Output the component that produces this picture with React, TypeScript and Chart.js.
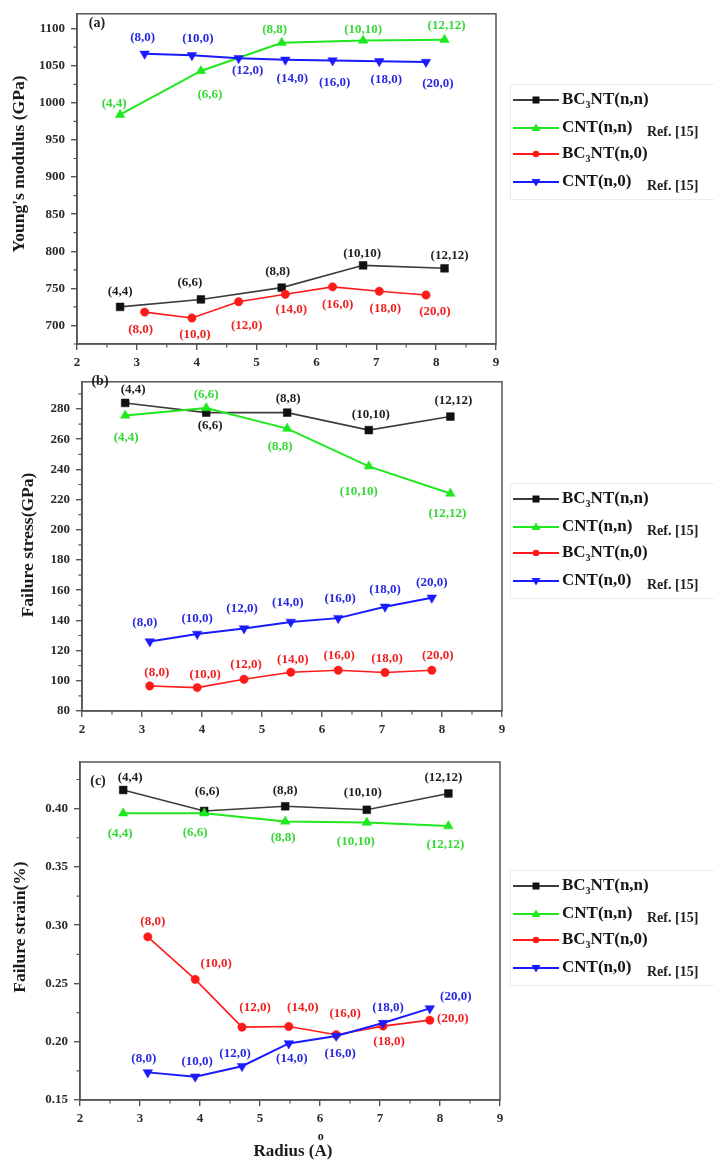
import React, { useEffect, useRef } from "react";
import { Chart, registerables } from "chart.js";

Chart.register(...registerables);

const FONT = '"Liberation Serif", "Times New Roman", serif';

// Radii (Å)
const armchairRadius = [2.72, 4.07, 5.42, 6.78, 8.14];
const zigzagRadius = [3.13, 3.92, 4.7, 5.48, 6.27, 7.05, 7.83];
const armchairLabels = ["(4,4)", "(6,6)", "(8,8)", "(10,10)", "(12,12)"];
const zigzagLabels = ["(8,0)", "(10,0)", "(12,0)", "(14,0)", "(16,0)", "(18,0)", "(20,0)"];

// (a) Young's modulus (GPa)
const youngBC3NTArm = [725, 735, 751, 781, 777];
const youngCNTArm = [984, 1043, 1081, 1084, 1085];
const youngBC3NTZig = [718, 710, 732, 742, 752, 746, 741];
const youngCNTZig = [1066, 1064, 1060, 1058, 1057, 1056, 1055];

// (b) Failure stress (GPa)
const stressBC3NTArm = [284, 277.6, 277.6, 266, 275];
const stressCNTArm = [275.7, 280.6, 267, 242, 224];
const stressBC3NTZig = [96.6, 95.5, 101, 105.7, 107, 105.5, 107];
const stressCNTZig = [126, 131, 134.6, 139, 141.5, 149, 155];

// (c) Failure strain (%)
const strainBC3NTArm = [0.416, 0.398, 0.402, 0.399, 0.413];
const strainCNTArm = [0.396, 0.396, 0.389, 0.388, 0.385];
const strainBC3NTZig = [0.29, 0.2535, 0.2125, 0.213, 0.206, 0.2134, 0.2185];
const strainCNTZig = [0.1737, 0.17, 0.179, 0.1985, 0.205, 0.216, 0.2286];

// tick labels
const xTicks = [2, 3, 4, 5, 6, 7, 8, 9];
const youngTicks = [700, 750, 800, 850, 900, 950, 1000, 1050, 1100];
const stressTicks = [80, 100, 120, 140, 160, 180, 200, 220, 240, 260, 280];
const strainTicks = [0.15, 0.2, 0.25, 0.3, 0.35, 0.4];

const legendNames = [["BC", "3", "NT(n,n)"], ["CNT(n,n)"], ["BC", "3", "NT(n,0)"], ["CNT(n,0)"]];
const legendRef = ["", "Ref. [15]", "", "Ref. [15]"];

type Off = [number, number];

// label placement (pixel offsets from each point), kept apart from the data
const offA: Off[][] = [
  [[0, -15], [-11, -17], [-4, -16], [-1, -12], [5, -13]],
  [[-6, -11], [9, 24], [-7, -13], [0, -11], [2, -14]],
  [[-4, 18], [3, 17], [8, 24], [6, 15], [5, 18], [6, 17], [9, 17]],
  [[-2, -16], [6, -17], [9, 12], [7, 19], [2, 22], [7, 18], [12, 22]],
];
const offB: Off[][] = [
  [[8, -13], [4, 13], [1, -14], [2, -15], [3, -16]],
  [[1, 22], [0, -13], [-7, 18], [-10, 25], [-3, 20]],
  [[7, -13], [8, -13], [2, -15], [2, -13], [1, -15], [2, -14], [6, -15]],
  [[-5, -19], [0, -15], [-2, -20], [-3, -19], [2, -19], [0, -17], [0, -15]],
];
const offC: Off[][] = [
  [[7, -12], [3, -19], [0, -16], [-4, -17], [-5, -16]],
  [[-3, 20], [-9, 19], [-2, 16], [-11, 19], [-3, 19]],
  [[5, -15], [21, -16], [13, -20], [14, -19], [9, -21], [6, 16], [23, -2]],
  [[-4, -14], [2, -15], [-7, -13], [3, 15], [4, 18], [5, -15], [26, -12]],
];

const STYLES = [
  { line: "#3c3c3c", point: "#111111", text: "#1e1e1e", pointStyle: "rect", radius: 5.5, rotation: 0, width: 1.6 },
  { line: "#1fe81f", point: "#1fe81f", text: "#35d835", pointStyle: "triangle", radius: 5.5, rotation: 0, width: 2 },
  { line: "#ff1a1a", point: "#ff1a1a", text: "#ee2020", pointStyle: "circle", radius: 4.2, rotation: 0, width: 1.6 },
  { line: "#1a1aff", point: "#1a1aff", text: "#2828e0", pointStyle: "triangle", radius: 5.5, rotation: 180, width: 2 },
];

const AXIS = "#555555";

interface PanelCfg {
  top: number;
  h: number;
  area: { l: number; r: number; t: number; b: number };
  yMin: number;
  yMax: number;
  yTicks: number[];
  yFmt: (v: number) => string;
  yTitle: string;
  yTitlePos: [number, number];
  letter: string;
  letterPos: [number, number];
  legendTop: number;
  xTitle: boolean;
  series: number[][];
  offs: Off[][];
}

const panels: PanelCfg[] = [
  {
    top: 0, h: 372, area: { l: 77, r: 496, t: 5, b: 344 },
    yMin: 675, yMax: 1120, yTicks: youngTicks, yFmt: (v) => String(v),
    yTitle: "Young's modulus (GPa)", yTitlePos: [19, 164],
    letter: "(a)", letterPos: [97, 23], legendTop: 100, xTitle: false,
    series: [youngBC3NTArm, youngCNTArm, youngBC3NTZig, youngCNTZig], offs: offA,
  },
  {
    top: 368, h: 374, area: { l: 82, r: 502, t: 5, b: 343 },
    yMin: 80, yMax: 298, yTicks: stressTicks, yFmt: (v) => String(v),
    yTitle: "Failure stress(GPa)", yTitlePos: [28, 177],
    letter: "(b)", letterPos: [100, 13], legendTop: 131, xTitle: false,
    series: [stressBC3NTArm, stressCNTArm, stressBC3NTZig, stressCNTZig], offs: offB,
  },
  {
    top: 745, h: 419, area: { l: 80, r: 500, t: 17, b: 355 },
    yMin: 0.15, yMax: 0.44, yTicks: strainTicks, yFmt: (v) => v.toFixed(2),
    yTitle: "Failure strain(%)", yTitlePos: [20, 182],
    letter: "(c)", letterPos: [98, 36], legendTop: 141, xTitle: true,
    series: [strainBC3NTArm, strainCNTArm, strainBC3NTZig, strainCNTZig], offs: offC,
  },
];

function minorValues(majors: number[], lo: number, hi: number): number[] {
  const out: number[] = [];
  const step = majors[1] - majors[0];
  const first = majors[0] - step / 2;
  if (first >= lo - 1e-9) out.push(first);
  for (let i = 0; i < majors.length - 1; i++) out.push((majors[i] + majors[i + 1]) / 2);
  const last = majors[majors.length - 1] + step / 2;
  if (last <= hi + 1e-9) out.push(last);
  return out;
}

function drawLegendName(ctx: CanvasRenderingContext2D, parts: string[], x: number, y: number) {
  ctx.font = `bold 17px ${FONT}`;
  ctx.textAlign = "left";
  ctx.textBaseline = "middle";
  ctx.fillStyle = "#161616";
  let cx = x;
  parts.forEach((p, i) => {
    const isSub = parts.length === 3 && i === 1;
    ctx.font = isSub ? `bold 10px ${FONT}` : `bold 17px ${FONT}`;
    ctx.fillText(p, cx, isSub ? y + 5 : y);
    cx += ctx.measureText(p).width;
  });
  return cx;
}

function makeDecor(c: PanelCfg) {
  return {
    id: "decor",
    afterDatasetsDraw(chart: any) {
      const ctx: CanvasRenderingContext2D = chart.ctx;
      const { left, right, top, bottom } = chart.chartArea;
      const xs = chart.scales.x;
      const ys = chart.scales.y;
      ctx.save();
      // frame
      ctx.strokeStyle = AXIS;
      ctx.lineWidth = 1.5;
      ctx.strokeRect(left, top, right - left, bottom - top);
      // minor ticks
      ctx.beginPath();
      minorValues(xTicks, 2, 9).forEach((v) => {
        const px = xs.getPixelForValue(v);
        ctx.moveTo(px, bottom);
        ctx.lineTo(px, bottom + 3.5);
      });
      minorValues(c.yTicks, c.yMin, c.yMax).forEach((v) => {
        const py = ys.getPixelForValue(v);
        ctx.moveTo(left, py);
        ctx.lineTo(left - 3.5, py);
      });
      ctx.lineWidth = 1.2;
      ctx.stroke();

      // point labels
      ctx.font = `bold 13px ${FONT}`;
      ctx.textAlign = "center";
      ctx.textBaseline = "middle";
      chart.data.datasets.forEach((ds: any, i: number) => {
        const meta = chart.getDatasetMeta(i);
        const labels = i % 2 === 0 ? (i === 0 ? armchairLabels : zigzagLabels) : i === 1 ? armchairLabels : zigzagLabels;
        ctx.fillStyle = STYLES[i].text;
        meta.data.forEach((el: any, j: number) => {
          const o = c.offs[i][j];
          ctx.fillText(labels[j], el.x + o[0], el.y + o[1]);
        });
      });

      // panel letter
      ctx.fillStyle = "#222";
      ctx.font = `bold 14px ${FONT}`;
      ctx.fillText(c.letter, c.letterPos[0], c.letterPos[1]);

      // y title
      ctx.save();
      ctx.translate(c.yTitlePos[0], c.yTitlePos[1]);
      ctx.rotate(-Math.PI / 2);
      ctx.font = `bold 17.5px ${FONT}`;
      ctx.fillStyle = "#1a1a1a";
      ctx.textAlign = "center";
      ctx.textBaseline = "middle";
      ctx.fillText(c.yTitle, 0, 0);
      ctx.restore();

      // x title
      if (c.xTitle) {
        ctx.font = `bold 17px ${FONT}`;
        ctx.fillStyle = "#1a1a1a";
        ctx.textAlign = "center";
        ctx.textBaseline = "middle";
        const txt = "Radius (A)";
        const cx = 293;
        const cy = 407;
        ctx.fillText(txt, cx, cy);
        const w = ctx.measureText(txt).width;
        const wBefore = ctx.measureText("Radius (").width;
        const wA = ctx.measureText("A").width;
        const ax = cx - w / 2 + wBefore + wA / 2;
        ctx.font = `bold 12px ${FONT}`;
        ctx.fillText("o", ax, cy - 15);
      }

      // legend
      const rows = [0, 28, 54, 82].map((d) => c.legendTop + d);
      ctx.strokeStyle = "#ececec";
      ctx.lineWidth = 1;
      ctx.strokeRect(510.5, rows[0] - 15.5, 210, rows[3] - rows[0] + 33);
      rows.forEach((ry, i) => {
        const st = STYLES[i];
        ctx.strokeStyle = st.line;
        ctx.lineWidth = 2;
        ctx.beginPath();
        ctx.moveTo(513, ry);
        ctx.lineTo(559, ry);
        ctx.stroke();
        ctx.fillStyle = st.point;
        ctx.beginPath();
        const mx = 536;
        if (i === 0) {
          ctx.fillRect(mx - 3.5, ry - 3.5, 7, 7);
        } else if (i === 2) {
          ctx.arc(mx, ry, 3.3, 0, Math.PI * 2);
          ctx.fill();
        } else if (i === 1) {
          ctx.moveTo(mx, ry - 4.5);
          ctx.lineTo(mx + 4.5, ry + 3);
          ctx.lineTo(mx - 4.5, ry + 3);
          ctx.closePath();
          ctx.fill();
        } else {
          ctx.moveTo(mx, ry + 4.5);
          ctx.lineTo(mx + 4.5, ry - 3);
          ctx.lineTo(mx - 4.5, ry - 3);
          ctx.closePath();
          ctx.fill();
        }
        drawLegendName(ctx, legendNames[i], 562, ry);
        if (legendRef[i]) {
          ctx.font = `bold 14px ${FONT}`;
          ctx.fillStyle = "#222";
          ctx.textAlign = "left";
          ctx.fillText(legendRef[i], 647, ry + 4);
        }
      });
      ctx.restore();
    },
  };
}

function Panel({ c }: { c: PanelCfg }) {
  const ref = useRef<HTMLCanvasElement>(null);
  useEffect(() => {
    if (!ref.current) return;
    const xsList = [armchairRadius, armchairRadius, zigzagRadius, zigzagRadius];
    const names = ["BC3NT(n,n)", "CNT(n,n)", "BC3NT(n,0)", "CNT(n,0)"];
    const datasets = c.series.map((ys, i) => ({
      label: names[i],
      data: xsList[i].map((x, j) => ({ x, y: ys[j] })),
      showLine: true,
      tension: 0,
      borderColor: STYLES[i].line,
      borderWidth: STYLES[i].width,
      backgroundColor: STYLES[i].point,
      pointBackgroundColor: STYLES[i].point,
      pointBorderColor: STYLES[i].point,
      pointBorderWidth: 0.5,
      pointStyle: STYLES[i].pointStyle,
      pointRadius: STYLES[i].radius,
      pointRotation: STYLES[i].rotation,
      order: 4 - i,
    }));
    const tickFont = { family: FONT, size: 13, weight: "bold" as const };
    const chart = new Chart(ref.current, {
      type: "scatter",
      data: { datasets },
      options: {
        animation: false,
        responsive: false,
        devicePixelRatio: 1,
        layout: { padding: { left: 0, top: c.area.t, right: 714 - c.area.r, bottom: 0 } },
        plugins: { legend: { display: false }, tooltip: { enabled: false } },
        scales: {
          x: {
            type: "linear",
            min: 2,
            max: 9,
            afterBuildTicks: (s: any) => {
              s.ticks = xTicks.map((v) => ({ value: v }));
            },
            afterFit: (s: any) => {
              s.height = c.h - c.area.b;
            },
            ticks: { font: tickFont, color: "#2a2a2a", padding: 5, callback: (v: any) => String(v), maxRotation: 0 },
            grid: { drawOnChartArea: false, drawTicks: true, tickLength: 6, color: AXIS, lineWidth: 1.4 },
            border: { display: true, color: AXIS, width: 1.5 },
          },
          y: {
            type: "linear",
            min: c.yMin,
            max: c.yMax,
            afterBuildTicks: (s: any) => {
              s.ticks = c.yTicks.map((v) => ({ value: v }));
            },
            afterFit: (s: any) => {
              s.width = c.area.l;
            },
            ticks: { font: tickFont, color: "#2a2a2a", padding: 6, callback: (v: any) => c.yFmt(Number(v)) },
            grid: { drawOnChartArea: false, drawTicks: true, tickLength: 6, color: AXIS, lineWidth: 1.4 },
            border: { display: true, color: AXIS, width: 1.5 },
          },
        },
      },
      plugins: [makeDecor(c)],
    } as any);
    return () => chart.destroy();
  }, []);
  return (
    <canvas
      ref={ref}
      width={714}
      height={c.h}
      style={{ position: "absolute", left: 0, top: c.top, width: 714, height: c.h }}
    />
  );
}

export default function App() {
  return (
    <div style={{ position: "absolute", left: 0, top: 0, width: 714, height: 1164, background: "#ffffff", overflow: "hidden" }}>
      {panels.map((c, i) => (
        <Panel key={i} c={c} />
      ))}
    </div>
  );
}
